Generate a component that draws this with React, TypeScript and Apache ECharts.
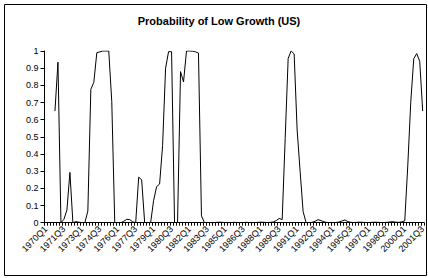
import React, { useEffect, useRef } from "react";
import * as echarts from "echarts";

const TITLE = "Probability of Low Growth (US)";

// Quarterly categories 1970Q1 .. 2001Q3
const FIRST_YEAR = 1970;
const LAST_YEAR = 2001;
const LAST_QUARTER = 3;
const quarters: string[] = [];
for (let y = FIRST_YEAR; y <= LAST_YEAR; y++) {
  for (let q = 1; q <= 4; q++) {
    if (y === LAST_YEAR && q > LAST_QUARTER) break;
    quarters.push(`${y}Q${q}`);
  }
}

// Probability of low growth, one value per quarter (null = no estimate)
const prob1970s: (number | null)[] = [
  null, null, null, 0.65, // 1970
  0.935, 0.0, 0.02, 0.074, // 1971
  0.293, 0.0, 0.006, 0.003, // 1972
  0.0, 0.0, 0.068, 0.777, // 1973
  0.818, 0.99, 0.995, 1.0, // 1974
  1.0, 1.0, 0.705, 0.0, // 1975
  0.0, 0.0, 0.008, 0.02, // 1976
  0.018, 0.005, 0.0, 0.265, // 1977
  0.25, 0.0, 0.0, 0.0, // 1978
  0.13, 0.21, 0.225, 0.45, // 1979
];
const prob1980s: number[] = [
  0.9, 0.996, 0.996, 0.0, // 1980
  0.0, 0.88, 0.82, 1.0, // 1981
  1.0, 0.999, 0.995, 0.988, // 1982
  0.04, 0.0, 0.001, 0.0, // 1983
  0.0, 0.002, 0.003, 0.002, // 1984
  0.001, 0.0, 0.001, 0.002, // 1985
  0.001, 0.0, 0.001, 0.002, // 1986
  0.001, 0.0, 0.001, 0.002, // 1987
  0.003, 0.002, 0.001, 0.002, // 1988
  0.004, 0.012, 0.025, 0.018, // 1989
];
const prob1990s: number[] = [
  0.49, 0.957, 1.0, 0.983, // 1990
  0.54, 0.3, 0.065, 0.0, // 1991
  0.0, 0.002, 0.008, 0.018, // 1992
  0.012, 0.005, 0.001, 0.0, // 1993
  0.0, 0.001, 0.004, 0.01, // 1994
  0.016, 0.006, 0.002, 0.001, // 1995
  0.002, 0.003, 0.002, 0.001, // 1996
  0.001, 0.002, 0.003, 0.002, // 1997
  0.001, 0.001, 0.002, 0.004, // 1998
  0.006, 0.003, 0.002, 0.005, // 1999
];
const prob2000s: number[] = [
  0.01, 0.33, 0.7, 0.955, // 2000
  0.985, 0.94, 0.65, // 2001
];

const probability = [...prob1970s, ...prob1980s, ...prob1990s, ...prob2000s];

const Y_TICKS_STEP = 0.1;
const LABEL_EVERY = 6;

const FONT = "'Liberation Sans', Arial, Helvetica, sans-serif";

export default function App() {
  const ref = useRef<HTMLDivElement>(null);

  useEffect(() => {
    document.body.style.margin = "0";
    if (!ref.current) return;
    const chart = echarts.init(ref.current, null, { renderer: "svg" });
    chart.setOption({
      animation: false,
      backgroundColor: "#ffffff",
      textStyle: { fontFamily: FONT },
      grid: { left: 44.5, top: 51, width: 381.5, height: 171.7 },
      graphic: [
        {
          type: "rect",
          shape: { x: 4.5, y: 4.5, width: 422, height: 271 },
          style: { fill: "none", stroke: "#000", lineWidth: 1 },
          silent: true,
        },
        {
          type: "text",
          x: 219,
          y: 21,
          style: {
            text: TITLE,
            fontFamily: FONT,
            fontSize: 11,
            fontWeight: "bold",
            fill: "#000",
            textAlign: "center",
            textVerticalAlign: "middle",
          },
        },
      ],
      xAxis: {
        type: "category",
        data: quarters,
        boundaryGap: true,
        axisLine: { lineStyle: { color: "#000", width: 1 } },
        axisTick: { show: true, interval: 0, length: 3, lineStyle: { color: "#000" } },
        axisLabel: {
          interval: LABEL_EVERY - 1,
          rotate: 45,
          fontSize: 9,
          fontFamily: FONT,
          color: "#000",
          margin: 5,
        },
        splitLine: { show: false },
      },
      yAxis: {
        type: "value",
        min: 0,
        max: 1,
        interval: Y_TICKS_STEP,
        axisLine: { show: true, lineStyle: { color: "#000", width: 1 } },
        axisTick: { show: true, length: 4, lineStyle: { color: "#000" } },
        axisLabel: {
          fontSize: 9,
          fontFamily: FONT,
          color: "#000",
          margin: 6,
          formatter: (v: number) => String(Math.round(v * 10) / 10),
        },
        splitLine: { show: false },
      },
      series: [
        {
          type: "line",
          data: probability,
          showSymbol: false,
          symbol: "none",
          connectNulls: false,
          lineStyle: { color: "#000", width: 1 },
        },
      ],
    });
    return () => chart.dispose();
  }, []);

  return (
    <div
      ref={ref}
      style={{ position: "absolute", left: 0, top: 0, width: 428, height: 278 }}
    />
  );
}
